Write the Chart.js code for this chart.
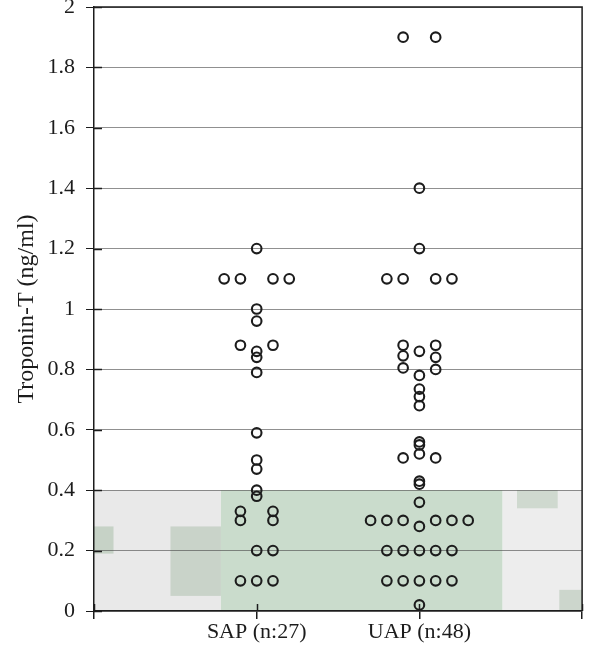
<!DOCTYPE html>
<html>
<head>
<meta charset="utf-8">
<script src="https://cdn.jsdelivr.net/npm/chart.js@4/dist/chart.umd.min.js"></script>
<style>
  html, body { margin: 0; padding: 0; background: #fff; }
  #wrap { width: 589px; height: 646px; }
</style>
</head>
<body>
<div id="wrap"><canvas id="chart" width="589" height="646"></canvas></div>
<script>
// categories on the x axis
const categories = ['SAP (n:27)', 'UAP (n:48)'];

// troponin-T values per patient, and the column each dot sits in within its stack
const sapValues  = [1.2, 1.1, 1.1, 1.1, 1.1, 1.0, 0.96, 0.88, 0.88, 0.86, 0.84, 0.79, 0.59, 0.5, 0.47,
                    0.4, 0.38, 0.33, 0.3, 0.33, 0.3, 0.2, 0.2, 0.1, 0.1, 0.1];
const sapColumns = [0, -2, -1, 1, 2, 0, 0, -1, 1, 0, 0, 0, 0, 0, 0,
                    0, 0, -1, -1, 1, 1, 0, 1, -1, 0, 1];

const uapValues  = [1.9, 1.9, 1.4, 1.2, 1.1, 1.1, 1.1, 1.1,
                    0.88, 0.845, 0.805, 0.88, 0.84, 0.8, 0.86, 0.78, 0.735, 0.71, 0.68,
                    0.56, 0.55, 0.52, 0.507, 0.507, 0.43, 0.42, 0.36,
                    0.3, 0.3, 0.3, 0.3, 0.3, 0.3, 0.28,
                    0.2, 0.2, 0.2, 0.2, 0.2,
                    0.1, 0.1, 0.1, 0.1, 0.1, 0.02];
const uapColumns = [-1, 1, 0, 0, -2, -1, 1, 2,
                    -1, -1, -1, 1, 1, 1, 0, 0, 0, 0, 0,
                    0, 0, 0, -1, 1, 0, 0, 0,
                    -3, -2, -1, 1, 2, 3, 0,
                    -2, -1, 0, 1, 2,
                    -2, -1, 0, 1, 2, 0];

const yTicks = [0, 0.2, 0.4, 0.6, 0.8, 1, 1.2, 1.4, 1.6, 1.8, 2];

// shaded reference band (normal range) and the grey scan patches around it
const shades = [
  { x0: 0,    x1: 0.78, y0: 0,    y1: 0.4,  color: '#e9e9e9' },
  { x0: 2.51, x1: 3,    y0: 0,    y1: 0.4,  color: '#ededed' },
  { x0: 0.78, x1: 2.51, y0: 0,    y1: 0.4,  color: '#cadccc' },
  { x0: 0.47, x1: 0.78, y0: 0.05, y1: 0.28, color: '#c9d3c9' },
  { x0: 0,    x1: 0.12, y0: 0.19, y1: 0.28, color: '#c6d2c6' },
  { x0: 2.6,  x1: 2.85, y0: 0.34, y1: 0.4,  color: '#cfd9cf' },
  { x0: 2.86, x1: 3,    y0: 0,    y1: 0.07, color: '#ccd6cc' }
];

const STEP = 0.1;
const toPoints = (vals, cols, idx) => vals.map((v, i) => ({ x: idx + 1 + cols[i] * STEP, y: v }));

const serif = "'Liberation Serif', 'Times New Roman', serif";
const ink = '#1c1c1c';

const scanFrame = {
  id: 'scanFrame',
  beforeDraw(chart) {
    const { ctx, scales: { x, y } } = chart;
    ctx.save();
    shades.forEach(s => {
      const l = x.getPixelForValue(s.x0), r = x.getPixelForValue(s.x1);
      const t = y.getPixelForValue(s.y1), b = y.getPixelForValue(s.y0);
      ctx.fillStyle = s.color;
      ctx.fillRect(l, t, r - l, b - t);
    });
    ctx.restore();
  },
  afterDraw(chart) {
    const { ctx, chartArea: a, scales: { x, y } } = chart;
    ctx.save();
    ctx.strokeStyle = ink;
    ctx.lineWidth = 1.5;
    ctx.beginPath();
    ctx.moveTo(a.left, a.top); ctx.lineTo(a.right, a.top); ctx.lineTo(a.right, a.bottom);
    // inner half of the crossing tick marks
    y.ticks.forEach(t => {
      const py = Math.round(y.getPixelForValue(t.value)) + 0.5;
      ctx.moveTo(a.left, py); ctx.lineTo(a.left + 8, py);
    });
    x.ticks.forEach(t => {
      const px = Math.round(x.getPixelForValue(t.value)) + 0.5;
      ctx.moveTo(px, a.bottom); ctx.lineTo(px, a.bottom - 7);
    });
    ctx.stroke();
    ctx.restore();
  }
};

const ds = (vals, cols, idx) => ({
  data: toPoints(vals, cols, idx),
  pointStyle: 'circle',
  pointRadius: 4.8,
  pointHoverRadius: 4.8,
  pointBorderWidth: 2.1,
  pointBorderColor: ink,
  pointBackgroundColor: 'rgba(255,255,255,0)',
  showLine: false
});

new Chart(document.getElementById('chart'), {
  type: 'scatter',
  data: {
    datasets: [ds(sapValues, sapColumns, 0), ds(uapValues, uapColumns, 1)]
  },
  options: {
    responsive: false,
    animation: false,
    layout: { padding: { top: 7, right: 1, left: 0, bottom: 0 } },
    plugins: { legend: { display: false }, tooltip: { enabled: false } },
    scales: {
      x: {
        type: 'linear',
        min: 0,
        max: 3,
        afterBuildTicks: s => { s.ticks = [0, 1, 2, 3].map(v => ({ value: v })); },
        afterFit: s => { s.height = 35; s.paddingLeft = 0; s.paddingRight = 0; },
        ticks: {
          autoSkip: false,
          maxRotation: 0,
          padding: 0,
          color: ink,
          font: { family: serif, size: 22 },
          callback: v => categories[v - 1] || ''
        },
        grid: { drawOnChartArea: false, tickLength: 8, tickColor: ink, lineWidth: 1.5 },
        border: { color: ink, width: 1.5 }
      },
      y: {
        min: 0,
        max: 2,
        afterBuildTicks: s => { s.ticks = yTicks.map(v => ({ value: v })); },
        afterFit: s => { s.width = 94; s.paddingTop = 0; s.paddingBottom = 0; },
        ticks: {
          padding: 11,
          color: ink,
          font: { family: serif, size: 22 },
          callback: v => String(Number(v.toFixed(1)))
        },
        grid: {
          color: 'rgba(70,70,70,0.6)',
          lineWidth: 1,
          borderDash: [7, 3, 3, 3],
          tickColor: ink,
          tickLength: 8,
          tickBorderDash: []
        },
        border: { color: ink, width: 1.5 },
        title: {
          display: true,
          text: 'Troponin-T (ng/ml)',
          color: ink,
          font: { family: serif, size: 24 },
          padding: { top: 12, bottom: 0 }
        }
      }
    }
  },
  plugins: [scanFrame]
});
</script>
</body>
</html>
